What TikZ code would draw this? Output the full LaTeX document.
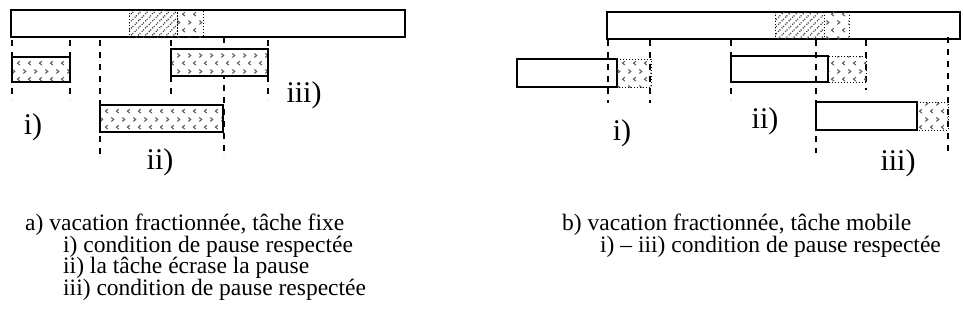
\documentclass[tikz,border=0pt]{standalone}
\usepackage{fontspec}
\setmainfont{Liberation Serif}
\usetikzlibrary{patterns,patterns.meta}
\tikzdeclarepattern{
  name=chevrons, type=uncolored,
  bounding box={(0pt,0pt) and (11pt,16pt)},
  tile size={(11pt,16pt)},
  code={
    \draw[line width=1.1pt] (1.5pt,14pt)--(4pt,12pt)--(1.5pt,10pt);
    \draw[line width=1.1pt] (9.5pt,6pt)--(7pt,4pt)--(9.5pt,2pt);
  }}
\tikzset{
  barbox/.style={draw, line width=1.3pt},
  taskbox/.style={draw, line width=1.4pt},
  taskfill/.style={taskbox, preaction={fill=white}, pattern={chevrons}, pattern color=black!65},
  pausebox/.style={draw, dotted, line width=1pt, pattern={chevrons}, pattern color=black!65},
  hatchbox/.style={draw, dotted, line width=1pt, pattern={Lines[angle=45,distance=5pt,line width=1.3pt]}, pattern color=black!75},
  dashline/.style={line width=1.3pt, dash pattern=on 6pt off 6pt},
  lbl/.style={font=\fontsize{30}{34}\selectfont, inner sep=0pt},
  captxt/.style={font=\fontsize{23.5}{27}\selectfont, inner sep=0pt, anchor=base west, text height=14pt, text depth=4pt},
}
\begin{document}
\begin{tikzpicture}[x=1pt,y=-1pt]
\useasboundingbox (0,0) rectangle (963,322);
% ---------- left panel ----------
\foreach \xx/\ya/\yb in {12/40/100, 70/40/100, 100/40/157, 171/40/97, 224/37/157, 268/40/100}
  \draw[dashline] (\xx,\ya) -- (\xx,\yb);
\draw[barbox] (11,10) rectangle (405,37);
\draw[hatchbox] (129,10) rectangle (177,37);
\draw[pausebox] (177,10) rectangle (203,37);
\draw[taskfill] (12,57) rectangle (70,82);
\draw[taskfill] (171,49) rectangle (268,76);
\draw[taskfill] (100,105) rectangle (223,132);
\node[lbl] (la1) at (33,127) {i)};
\node[lbl] (la2) at (160,162) {ii)};
\node[lbl] (la3) at (304,95) {iii)};
% ---------- right panel ----------
\foreach \xx/\ya/\yb in {608/40/103, 650/40/103, 731/40/100, 816/40/153, 866/40/90, 948/37/153}
  \draw[dashline] (\xx,\ya) -- (\xx,\yb);
\draw[barbox] (607,12) rectangle (960,39);
\draw[hatchbox] (775,12) rectangle (824,39);
\draw[pausebox] (824,12) rectangle (849,39);
\draw[taskbox] (517,59) rectangle (617,87);
\draw[pausebox] (617,59) rectangle (651,87);
\draw[taskbox] (731,56) rectangle (828,82);
\draw[pausebox] (828,56) rectangle (866,82);
\draw[taskbox] (816,102) rectangle (917,130);
\draw[pausebox] (917,102) rectangle (948,130);
\node[lbl] (lb1) at (622,133) {i)};
\node[lbl] (lb2) at (765,121) {ii)};
\node[lbl] (lb3) at (898,163) {iii)};
% ---------- captions ----------
\node[captxt] (ca) at (25,230) {a) vacation fractionnée, tâche fixe};
\node[captxt] (ca1) at (63,252) {i) condition de pause respectée};
\node[captxt] (ca2) at (63,273) {ii) la tâche écrase la pause};
\node[captxt] (ca3) at (63,295) {iii) condition de pause respectée};
\node[captxt] (cb) at (562,230) {b) vacation fractionnée, tâche mobile};
\node[captxt] (cb1) at (600,252) {i) -- iii) condition de pause respectée};
\end{tikzpicture}
\end{document}
